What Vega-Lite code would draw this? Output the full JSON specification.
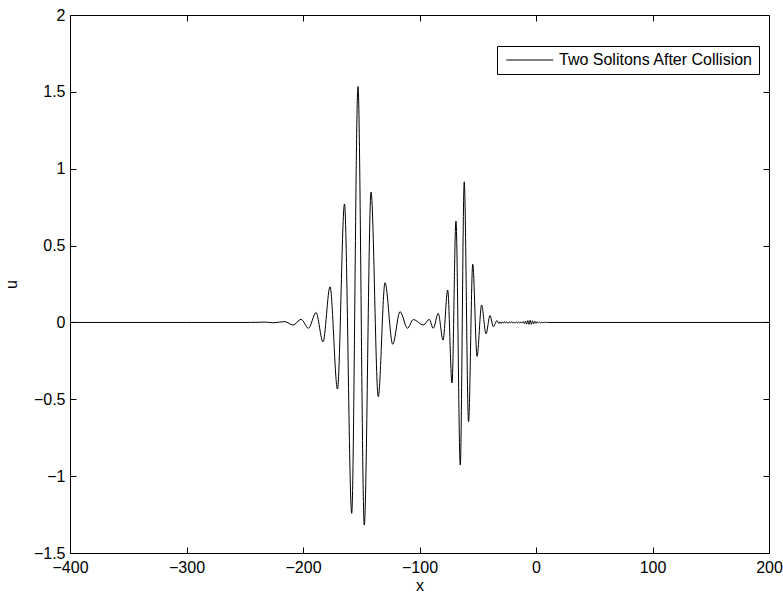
{
  "$schema": "https://vega.github.io/schema/vega-lite/v6.json",
  "width": 699,
  "height": 538,
  "autosize": {"type": "none"},
  "padding": {"left": 70, "top": 15, "right": 14, "bottom": 41},
  "background": "white",
  "config": {
    "font": "Liberation Sans",
    "view": {"stroke": "black", "strokeWidth": 1},
    "axis": {
      "grid": false,
      "domain": false,
      "labelFlush": false,
      "tickColor": "black",
      "tickSize": -6,
      "tickWidth": 1,
      "labelColor": "black",
      "labelFontSize": 16,
      "labelFont": "Liberation Sans",
      "titleFont": "Liberation Sans",
      "titleFontSize": 16,
      "titleFontWeight": "normal",
      "titleColor": "black"
    },
    "legend": {
      "orient": "none",
      "legendX": 427,
      "legendY": 31,
      "strokeColor": "black",
      "fillColor": "white",
      "padding": 6,
      "symbolType": "M-1,0H9",
      "symbolSize": 88,
      "symbolStrokeWidth": 1,
      "labelFontSize": 16,
      "labelFont": "Liberation Sans",
      "labelColor": "black",
      "labelOffset": 40,
      "labelLimit": 0
    }
  },
  "data": {
    "values": [
      {"x": -400, "u": 0}, {"x": -300, "u": 0}, {"x": -245, "u": 0},
      {"x": -232, "u": 0.002}, {"x": -226, "u": -0.002}, {"x": -220, "u": 0.002},
      {"x": -215.5, "u": 0.005}, {"x": -208.6, "u": -0.017}, {"x": -201.7, "u": 0.02},
      {"x": -195.3, "u": -0.038}, {"x": -188.8, "u": 0.064}, {"x": -182.8, "u": -0.126},
      {"x": -176.8, "u": 0.232}, {"x": -170.4, "u": -0.433}, {"x": -164.4, "u": 0.77},
      {"x": -158.2, "u": -1.242}, {"x": -152.8, "u": 1.535}, {"x": -147.4, "u": -1.318},
      {"x": -141.6, "u": 0.848}, {"x": -135.4, "u": -0.483}, {"x": -129.6, "u": 0.258},
      {"x": -123.0, "u": -0.142}, {"x": -116.7, "u": 0.07}, {"x": -110.3, "u": -0.038},
      {"x": -105.3, "u": 0.019}, {"x": -96.7, "u": -0.017}, {"x": -91.6, "u": 0.02},
      {"x": -88.2, "u": -0.038}, {"x": -83.9, "u": 0.059}, {"x": -79.8, "u": -0.115},
      {"x": -75.8, "u": 0.211}, {"x": -72.1, "u": -0.394}, {"x": -68.7, "u": 0.66},
      {"x": -65.0, "u": -0.928}, {"x": -61.6, "u": 0.915}, {"x": -57.9, "u": -0.646},
      {"x": -54.3, "u": 0.379}, {"x": -50.6, "u": -0.221}, {"x": -46.7, "u": 0.113},
      {"x": -42.9, "u": -0.074}, {"x": -39.5, "u": 0.045}, {"x": -36.6, "u": -0.028},
      {"x": -33.5, "u": 0.012},
      {"x": -32, "u": -0.006}, {"x": -31, "u": 0.004}, {"x": -30, "u": -0.008},
      {"x": -29, "u": 0.003}, {"x": -28, "u": -0.005}, {"x": -27, "u": 0.006},
      {"x": -26, "u": -0.004}, {"x": -25, "u": 0.003}, {"x": -24, "u": -0.006},
      {"x": -23, "u": 0.004}, {"x": -22, "u": -0.003}, {"x": -21, "u": 0.005},
      {"x": -20, "u": -0.004}, {"x": -19, "u": 0.003}, {"x": -18, "u": -0.005},
      {"x": -17, "u": 0.004}, {"x": -16, "u": -0.003}, {"x": -15, "u": 0.004},
      {"x": -14, "u": -0.005}, {"x": -13, "u": 0.003}, {"x": -12, "u": -0.004},
      {"x": -11, "u": 0.006}, {"x": -10, "u": -0.008}, {"x": -9, "u": 0.009},
      {"x": -8, "u": -0.011}, {"x": -7, "u": 0.012}, {"x": -6, "u": -0.013},
      {"x": -5, "u": 0.014}, {"x": -4, "u": -0.012}, {"x": -3, "u": 0.011},
      {"x": -2, "u": -0.01}, {"x": -1, "u": 0.008}, {"x": 0, "u": -0.006},
      {"x": 1, "u": 0.005}, {"x": 2, "u": -0.004}, {"x": 3, "u": 0.003},
      {"x": 4, "u": -0.003}, {"x": 5, "u": 0.002}, {"x": 6, "u": -0.002},
      {"x": 7, "u": 0.002}, {"x": 8, "u": -0.001}, {"x": 9, "u": 0.001},
      {"x": 10, "u": 0}, {"x": 200, "u": 0}
    ]
  },
  "layer": [
    {
      "mark": {"type": "line", "interpolate": "monotone", "strokeWidth": 1, "clip": true},
      "encoding": {
        "x": {
          "field": "x", "type": "quantitative",
          "scale": {"domain": [-400, 200], "nice": false, "zero": false},
          "axis": {"orient": "bottom", "values": [-400, -300, -200, -100, 0, 100, 200], "format": "d", "title": "x", "labelPadding": 12, "titlePadding": 2}
        },
        "y": {
          "field": "u", "type": "quantitative",
          "scale": {"domain": [-1.5, 2], "nice": false, "zero": false},
          "axis": {"orient": "left", "values": [-1.5, -1, -0.5, 0, 0.5, 1, 1.5, 2], "format": "~g", "title": "u", "labelPadding": 11, "titlePadding": 14}
        },
        "color": {
          "datum": "Two Solitons After Collision", "type": "nominal",
          "scale": {"range": ["black"]},
          "legend": {"title": null}
        }
      }
    },
    {
      "mark": {"type": "line", "opacity": 0},
      "encoding": {
        "x": {
          "field": "x", "type": "quantitative",
          "axis": {"orient": "top", "values": [-400, -300, -200, -100, 0, 100, 200], "labels": false, "title": null}
        },
        "y": {
          "field": "u", "type": "quantitative",
          "axis": {"orient": "right", "values": [-1.5, -1, -0.5, 0, 0.5, 1, 1.5, 2], "labels": false, "title": null}
        }
      }
    }
  ],
  "resolve": {"axis": {"x": "independent", "y": "independent"}}
}
